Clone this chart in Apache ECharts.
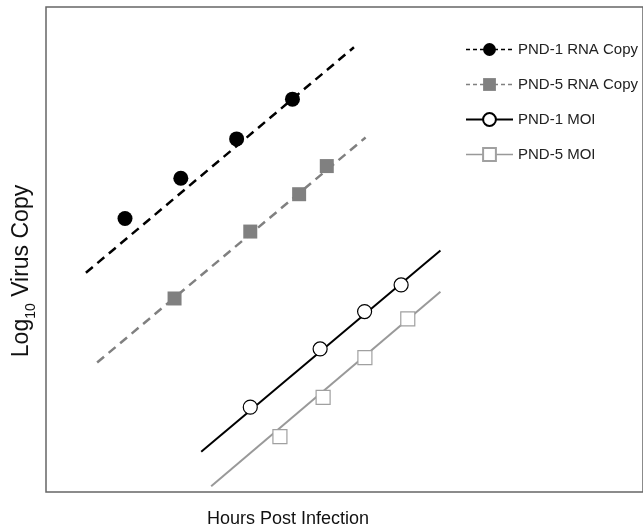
<!DOCTYPE html>
<html>
<head>
<meta charset="utf-8">
<script src="https://cdn.jsdelivr.net/npm/echarts@6/dist/echarts.min.js"></script>
<style>html,body{margin:0;padding:0;background:#fff}#c{width:643px;height:532px}</style>
</head>
<body>
<div id="c"></div>
<script>
// Series names (legend)
const seriesNames = ['PND-1 RNA Copy', 'PND-5 RNA Copy', 'PND-1 MOI', 'PND-5 MOI'];

const pnd1RnaPoints = [[7.94, 5.64], [13.55, 6.47], [19.16, 7.28], [24.77, 8.10]];
const pnd5RnaPoints = [[12.92, 3.99], [20.53, 5.37], [25.44, 6.14], [28.22, 6.72]];
const pnd1MoiPoints = [[20.53, 1.75], [27.55, 2.95], [32.02, 3.72], [35.69, 4.27]];
const pnd5MoiPoints = [[23.51, 1.14], [27.85, 1.95], [32.05, 2.77], [36.36, 3.57]];

// Trend line end points
const pnd1RnaTrend = [[4.01, 4.52], [30.95, 9.17]];
const pnd5RnaTrend = [[5.14, 2.67], [32.12, 7.31]];
const pnd1MoiTrend = [[15.60, 0.83], [39.64, 4.98]];
const pnd5MoiTrend = [[16.60, 0.12], [39.64, 4.13]];

// Axis ranges
const xRange = [0, 60];
const yRange = [0, 10];

const chart = echarts.init(document.getElementById('c'), null, {renderer: 'canvas'});

const styles = [
  {color: '#000', lineType: [9, 6], lineWidth: 2.5, symbol: 'circle', size: 15, fill: '#000', border: '#000', bw: 0, legType: [4, 3], legW: 1.5},
  {color: '#808080', lineType: [9, 6], lineWidth: 2.5, symbol: 'rect', size: 14, fill: '#808080', border: '#808080', bw: 0, legType: [4, 3], legW: 1.5},
  {color: '#000', lineType: 'solid', lineWidth: 2, symbol: 'circle', size: 14, fill: '#fff', border: '#000', bw: 1.2, legType: 'solid', legW: 2},
  {color: '#999', lineType: 'solid', lineWidth: 2, symbol: 'rect', size: 14, fill: '#fff', border: '#a0a0a0', bw: 1.2, legType: 'solid', legW: 1.5}
];
const trends = [pnd1RnaTrend, pnd5RnaTrend, pnd1MoiTrend, pnd5MoiTrend];
const points = [pnd1RnaPoints, pnd5RnaPoints, pnd1MoiPoints, pnd5MoiPoints];

const series = [];
seriesNames.forEach((name, i) => {
  const s = styles[i];
  series.push({
    name: name,
    type: 'line',
    data: trends[i],
    showSymbol: false,
    symbol: s.symbol,
    symbolSize: s.size,
    silent: true,
    z: 2,
    lineStyle: {color: s.color, width: s.lineWidth, type: s.lineType},
    itemStyle: {color: s.fill, borderColor: s.border, borderWidth: s.bw}
  });
});
seriesNames.forEach((name, i) => {
  const s = styles[i];
  series.push({
    name: name,
    type: 'scatter',
    data: points[i],
    symbol: s.symbol,
    symbolSize: s.size,
    z: 3,
    itemStyle: {color: s.fill, borderColor: s.border, borderWidth: s.bw, opacity: 1}
  });
});

chart.setOption({
  animation: false,
  backgroundColor: '#fff',
  grid: {left: 46, right: -2, top: 7, bottom: 40, show: true, borderColor: '#666', borderWidth: 1.5, backgroundColor: 'transparent'},
  xAxis: {type: 'value', min: xRange[0], max: xRange[1], axisLine: {show: false}, axisTick: {show: false}, axisLabel: {show: false}, splitLine: {show: false}},
  yAxis: {type: 'value', min: yRange[0], max: yRange[1], axisLine: {show: false}, axisTick: {show: false}, axisLabel: {show: false}, splitLine: {show: false}},
  legend: {
    data: seriesNames.map((n, i) => ({name: n, lineStyle: {type: styles[i].legType, width: styles[i].legW}})),
    orient: 'vertical',
    left: 465,
    top: 42,
    padding: 0,
    itemWidth: 47,
    itemHeight: 16,
    itemGap: 20,
    selectedMode: false,
    textStyle: {fontFamily: 'Liberation Sans, Arial, sans-serif', fontSize: 15, color: '#222'}
  },
  graphic: [
    {type: 'text', x: 288, y: 519, style: {text: 'Hours Post Infection', font: '18px "Liberation Sans", Arial, sans-serif', fill: '#111', textAlign: 'center', textVerticalAlign: 'middle'}},
    {type: 'text', x: 22, y: 271, rotation: Math.PI / 2,
     style: {text: '{a|Log}{s|10}{a| Virus Copy}', textAlign: 'center', textVerticalAlign: 'middle',
       rich: {a: {font: '23px "Liberation Sans", Arial, sans-serif', fill: '#111', verticalAlign: 'bottom'},
              s: {font: '14px "Liberation Sans", Arial, sans-serif', fill: '#111', verticalAlign: 'bottom', padding: [0, 0, -5, 0]}}}}
  ],
  series: series
});
</script>
</body>
</html>
